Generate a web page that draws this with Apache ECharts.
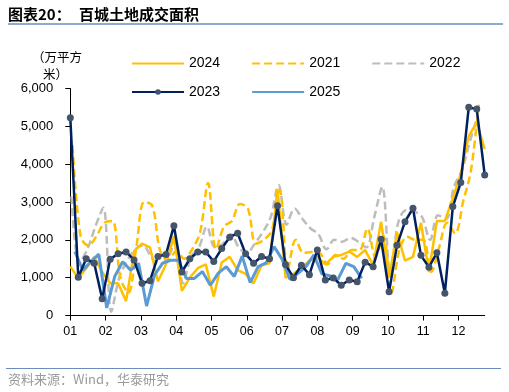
<!DOCTYPE html>
<html><head><meta charset="utf-8">
<script src="https://cdn.jsdelivr.net/npm/echarts/dist/echarts.min.js"></script>
<style>html,body{margin:0;padding:0;background:#fff}#c{width:509px;height:392px}</style>
</head><body><div id="c"></div>
<script>
// x axis: day-of-year categories, labels every 31 days
const monthLabels = ['01','02','03','04','05','06','07','08','09','10','11','12'];
const labelStepDays = 31;
const axisDays = 365;
const weekStep = 7;

// weekly values (万平方米); start = first day index of each year's series
const s2024 = [1300,980,1250,1550,1150,850,850,380,1700,1900,1800,900,1350,2100,650,1000,1250,1350,500,1400,1550,1200,1100,850,1330,1380,3350,1000,1100,1250,1450,1550,1350,1550,1600,1690,1550,1730,1330,2480,1000,2200,1450,1550,2450,1150,2500,2500,3100,3750,4750,5100,4400];
const start2024 = 0;
const s2021 = [4500,2100,1850,2100,2450,2500,1000,600,1800,3000,2900,1700,1450,1700,1500,1750,2200,3500,1750,2350,2500,2950,2830,1900,2000,2250,3300,1200,2000,1650,1680,1650,1350,1600,1500,1730,1730,2300,1550,2100,600,1730,2080,2000,2000,1150,1800,2450,2170,3000,3850,5650];
const start2021 = 2;
const s2022 = [3150,1400,1750,2350,2850,100,1000,1450,1750,1850,1550,1350,1500,1900,850,1550,1800,2350,1800,1900,2150,1800,1650,1900,2200,2600,3450,2400,2830,2550,2300,2150,1750,2000,1950,2050,1950,1800,2600,3400,1100,2450,2780,2750,2600,2000,2650,2550,3400,3850,4600,5300];
const start2022 = 1;
const s2023 = [5230,1010,1500,1380,440,1490,1630,1680,1470,850,920,1560,1610,2370,1150,1500,1680,1680,1430,1770,2070,2175,1630,1380,1560,1500,2900,1350,1000,1330,1080,1730,940,990,800,940,890,1410,1290,2015,625,1860,2480,2835,1590,1275,1660,590,2880,3515,5505,5455,3715];
const start2023 = 0;
const s2025 = [1690,1200,1420,1620,200,1030,1420,1200,1380,250,1070,1380,1460,1460,980,980,1160,800,1120,1290,1030,1570,870,1290,1390,1820,1490,950,1115,1290,1600,1100,1050,950,1380,1290,980];
const start2025 = 4;

const yTicks = [0,1000,2000,3000,4000,5000,6000];

const categories = [];
for (let d = 0; d < axisDays; d++) {
  categories.push(d % labelStepDays === 0 ? (monthLabels[d / labelStepDays] || '') : '');
}
function pts(vals, start) { return vals.map((v, i) => [start + weekStep * i, v]); }
const isLabelDay = (idx) => idx % labelStepDays === 0 && idx / labelStepDays < monthLabels.length;

const latin = 'Liberation Sans, Arial, sans-serif';
const cjk = '"Noto Sans CJK SC", sans-serif';
const GOLD = '#FFC000', GRAY = '#BDBDBD', NAVY = '#002060', BLUE = '#5B9BD5';
const noMark = {opacity: 0};

const legendCommon = {left: 131, itemWidth: 52, itemHeight: 7, itemGap: 31, padding: 0,
  textStyle: {fontSize: 14, fontFamily: latin, color: '#000'}};

const chart = echarts.init(document.getElementById('c'), null, {renderer: 'canvas'});
chart.setOption({
  animation: false,
  backgroundColor: '#fff',
  grid: {left: 70.3, right: 24.3, top: 88.5, bottom: 76.5, containLabel: false, outerBoundsMode: 'none'},
  legend: [
    Object.assign({}, legendCommon, {top: 56.5, data: [
      {name: '2024', itemStyle: noMark}, {name: '2021', itemStyle: noMark}, {name: '2022', itemStyle: noMark}]}),
    Object.assign({}, legendCommon, {top: 85, data: [
      {name: '2023'}, {name: '2025', itemStyle: noMark}]})
  ],
  xAxis: {
    type: 'category', data: categories, boundaryGap: false,
    axisLine: {show: true, lineStyle: {color: '#000', width: 1}},
    axisTick: {show: true, length: 5, interval: (i) => isLabelDay(i), lineStyle: {color: '#000'}},
    axisLabel: {show: true, interval: (i) => isLabelDay(i), margin: 10, fontSize: 12.5, fontFamily: latin, color: '#000'},
    splitLine: {show: false}
  },
  yAxis: {
    type: 'value', min: yTicks[0], max: yTicks[yTicks.length - 1], interval: yTicks[1] - yTicks[0],
    axisLine: {show: true, lineStyle: {color: '#000', width: 1}},
    axisTick: {show: true, length: 5, lineStyle: {color: '#000'}},
    axisLabel: {margin: 17, fontSize: 13, fontFamily: latin, color: '#000',
      formatter: (v) => v.toLocaleString('en-US')},
    splitLine: {show: false}
  },
  series: [
    {name: '2022', type: 'line', data: pts(s2022, start2022), symbol: 'none', smooth: 0.35,
     lineStyle: {color: GRAY, width: 2.5, type: [8, 4]}, itemStyle: {color: GRAY}},
    {name: '2021', type: 'line', data: pts(s2021, start2021), symbol: 'none', smooth: 0.35,
     lineStyle: {color: GOLD, width: 2.5, type: [8, 4]}, itemStyle: {color: GOLD}},
    {name: '2024', type: 'line', data: pts(s2024, start2024), symbol: 'none',
     lineStyle: {color: GOLD, width: 2.5}, itemStyle: {color: GOLD}},
    {name: '2025', type: 'line', data: pts(s2025, start2025), symbol: 'none',
     lineStyle: {color: BLUE, width: 3}, itemStyle: {color: BLUE}},
    {name: '2023', type: 'line', data: pts(s2023, start2023), symbol: 'circle', symbolSize: 7,
     showSymbol: true, showAllSymbol: true,
     lineStyle: {color: NAVY, width: 2.5}, itemStyle: {color: '#44546A', borderWidth: 0}}
  ],
  graphic: [
    {type: 'text', left: 8, top: 7, style: {text: '图表20：', font: 'bold 15px ' + cjk, fill: '#000'}},
    {type: 'text', left: 79, top: 7, style: {text: '百城土地成交面积', font: 'bold 15px ' + cjk, fill: '#000'}},
    {type: 'line', shape: {x1: 8, y1: 24, x2: 503, y2: 24}, style: {stroke: '#6A8CC0', lineWidth: 1.5}},
    {type: 'text', left: 32, top: 51, style: {text: '（万平方', font: '12.5px ' + cjk, fill: '#000'}},
    {type: 'text', left: 43, top: 68, style: {text: '米）', font: '12.5px ' + cjk, fill: '#000'}},
    {type: 'line', shape: {x1: 6, y1: 368.5, x2: 501, y2: 368.5}, style: {stroke: '#6A8CC0', lineWidth: 1}},
    {type: 'text', left: 8, top: 373, style: {text: '资料来源：Wind，华泰研究', font: '13px ' + cjk, fill: '#9A9A9A'}}
  ]
});
</script></body></html>
